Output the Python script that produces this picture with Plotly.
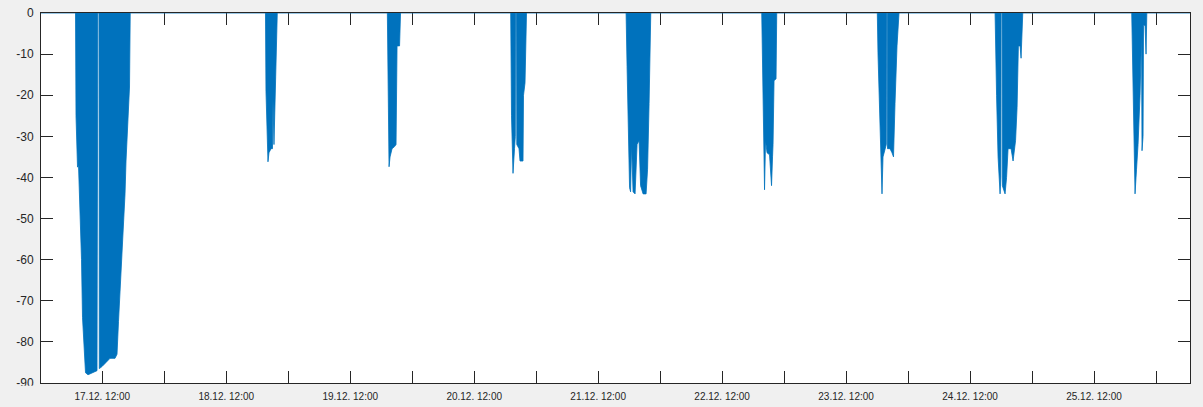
import pandas as pd
import plotly.graph_objects as go

# ---- data (hour of day, value) ----
burst_days = ["2018-12-17", "2018-12-18", "2018-12-19", "2018-12-20", "2018-12-21",
              "2018-12-22", "2018-12-23", "2018-12-24", "2018-12-25"]

b1_h = [6.815, 6.912, 7.202, 7.396, 7.590, 7.783, 7.977, 8.170, 8.461, 8.751, 9.235, 10.010,
        10.978, 11.133, 11.365, 11.423, 11.946, 12.720, 13.495, 14.463, 14.850, 15.140, 15.431,
        15.818, 16.108, 16.399, 16.592, 16.883, 17.076, 17.270, 17.406]
b1_v = [0, -25, -37.5, -37, -45, -50, -60, -74, -80, -87.5, -88, -87.5,
        -87, 0, 0, -86.5, -86, -85, -84, -84, -83, -75, -68,
        -58, -50, -44, -36, -28, -20, -18, 0]

b2_h = [19.593, 19.690, 19.884, 20.077, 20.271, 20.658, 20.949, 21.045, 21.239, 21.433, 21.626, 21.878]
b2_v = [0, -19, -32, -36.2, -34, -33, -33, -21, -32, -22, -7, 0]

b3_h = [19.187, 19.284, 19.516, 19.710, 20.097, 20.581, 20.871, 21.065, 21.549, 21.742]
b3_v = [0, -19, -37.4, -35, -33, -32.5, -32, -8, -8, 0]

b4_h = [19.071, 19.225, 19.516, 19.806, 19.961, 20.000, 20.194, 20.252, 20.678, 20.871,
        21.452, 21.549, 21.839, 22.130]
b4_v = [0, -25, -39, -33, -30, 0, 0, -32, -33, -36, -36, -20, -17, 0]

b5_h = [17.406, 17.599, 17.890, 18.083, 18.277, 18.470, 18.761, 19.148, 19.535, 19.922,
        20.213, 20.697, 21.278, 21.568, 21.859, 22.188]
b5_v = [0, -13, -30, -42.5, -43.5, -32, -43.5, -44, -32, -31, -42, -44, -44, -38, -22, 0]

b6_h = [19.671, 19.922, 20.213, 20.406, 20.697, 21.181, 21.568, 21.762, 21.859, 22.052, 22.439, 22.575]
b6_v = [0, -20, -43, -31, -34, -34.5, -42, -35, -32, -16.5, -16, 0]

b7_h = [18.044, 18.180, 18.470, 18.664, 18.954, 19.148, 19.535, 19.787, 19.826, 19.980,
        20.019, 20.503, 20.891, 21.181, 21.471, 21.859, 22.246]
b7_v = [0, -10, -25, -32, -44, -35, -33, -32, 0, 0, -33, -33, -34, -35, -22, -8, 0]

b8_h = [16.844, 17.134, 17.425, 17.812, 17.967, 18.006, 18.199, 18.257, 18.780, 19.071,
        19.361, 19.942, 20.329, 20.813, 21.103, 21.355, 21.684, 21.878, 22.072, 22.207]
b8_v = [0, -20, -35, -44, -40, 0, 0, -42, -44, -40, -33, -33, -36, -31, -23, -8, -8, -11, -5, 0]

b9_h = [19.303, 19.555, 19.845, 19.942, 20.232, 20.523, 20.910, 21.103, 21.200, 21.297,
        21.491, 21.587, 21.878, 22.072, 22.226]
b9_v = [0, -20, -35, -44, -38, -32, -20, -5, -5, -33.5, -30, -3, -3, -10, 0]

x_start = "2018-12-17 00:08"
x_end = "2018-12-26 06:35"

y_tick_vals = [0, -10, -20, -30, -40, -50, -60, -70, -80, -90]
y_tick_text = ["0", "-10", "-20", "-30", "-40", "-50", "-60", "-70", "-80", "-90"]

# ---- assemble the series ----
bursts_h = [b1_h, b2_h, b3_h, b4_h, b5_h, b6_h, b7_h, b8_h, b9_h]
bursts_v = [b1_v, b2_v, b3_v, b4_v, b5_v, b6_v, b7_v, b8_v, b9_v]

xs = [pd.Timestamp(x_start)]
ys = [0]
for day, hh, vv in zip(burst_days, bursts_h, bursts_v):
    base = pd.Timestamp(day)
    for h, v in zip(hh, vv):
        xs.append(base + pd.Timedelta(hours=h))
        ys.append(v)
xs.append(pd.Timestamp(x_end))
ys.append(0)

ticks = pd.date_range("2018-12-17 12:00", "2018-12-26 00:00", freq="12h")
tick_text = [t.strftime("%d.%m. %H:%M") if t.hour == 12 else "" for t in ticks]

blue = "#0072BD"
axis_col = "#262626"

fig = go.Figure()
fig.add_trace(go.Scatter(
    x=xs, y=ys, mode="lines",
    line=dict(color=blue, width=0.8),
    fill="tozeroy", fillcolor=blue,
    hoverinfo="skip", showlegend=False,
))

fig.update_layout(
    width=1203, height=407,
    margin=dict(l=41, r=13, t=13, b=24, pad=0),
    paper_bgcolor="#f0f0f0",
    plot_bgcolor="white",
    font=dict(family="Liberation Sans, Arial, sans-serif", color=axis_col),
    shapes=[dict(type="rect", xref="paper", yref="paper",
                 x0=-0.04, x1=-0.0012, y0=-0.0075, y1=-0.03,
                 fillcolor="#f0f0f0", line=dict(width=0), layer="above")],
)
fig.update_xaxes(
    type="date", range=[x_start, x_end],
    tickvals=list(ticks), ticktext=tick_text,
    ticks="inside", ticklen=12, tickcolor=axis_col, tickwidth=1,
    showline=True, linecolor=axis_col, linewidth=1, mirror="ticks",
    showgrid=False, zeroline=False,
    tickfont=dict(size=10, color=axis_col),
    ticklabelstandoff=4,
    automargin=False,
    layer="below traces",
)
fig.update_yaxes(
    range=[-90, 0],
    tickvals=y_tick_vals, ticktext=y_tick_text,
    ticks="inside", ticklen=12, tickcolor=axis_col, tickwidth=1,
    showline=True, linecolor=axis_col, linewidth=1, mirror="ticks",
    showgrid=False, zeroline=False,
    tickfont=dict(size=12, color=axis_col),
    ticklabelstandoff=4,
    automargin=False,
    layer="below traces",
)

fig.write_html("out.html", config={"displayModeBar": False},
               post_script="document.body.style.margin='0px';")
